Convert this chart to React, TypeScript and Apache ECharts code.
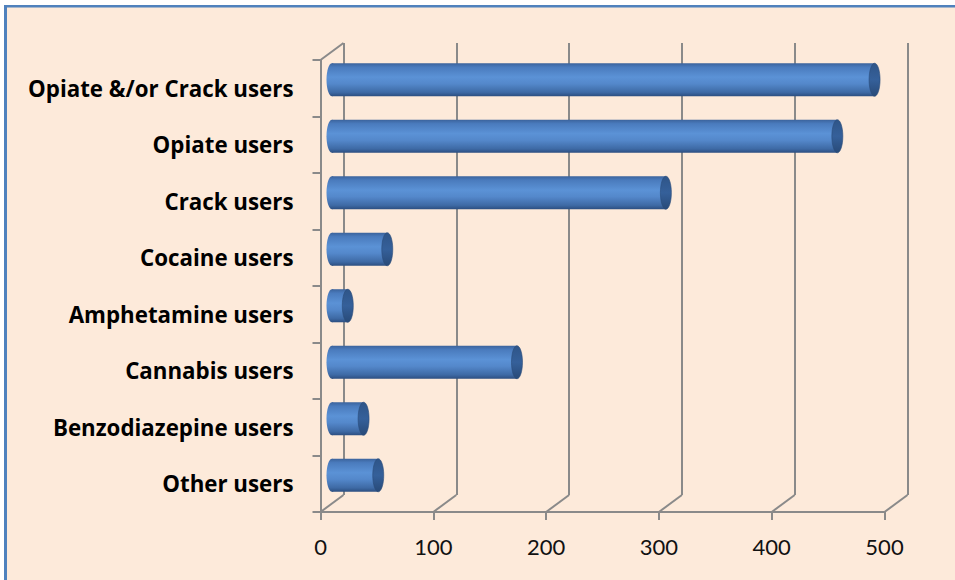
import React, { useEffect, useRef } from "react";
import * as echarts from "echarts";

const categories = [
  "Opiate &/or Crack users",
  "Opiate users",
  "Crack users",
  "Cocaine users",
  "Amphetamine users",
  "Cannabis users",
  "Benzodiazepine users",
  "Other users",
];
const values = [481, 448, 296, 49, 14, 164, 28, 41];
const xTicks = [0, 100, 200, 300, 400, 500];

const AXIS_MIN = 0;
const AXIS_MAX = 500;
const AXIS_STEP = 100;

const DEPTH_X = 23;
const DEPTH_Y = -17;
const GRID_COLOR = "#8a8a8a";
const BG = "#FDEADA";
const FRAME_BLUE = "#4F81BD";

export default function App() {
  const ref = useRef<HTMLDivElement>(null);

  useEffect(() => {
    document.body.style.margin = "0";
    const chart = echarts.init(ref.current!, null, { renderer: "svg" });

    const frontGrid = { left: 320.5, right: 70.5, top: 60, bottom: 68 };
    const backGrid = {
      left: frontGrid.left + DEPTH_X,
      right: frontGrid.right - DEPTH_X,
      top: frontGrid.top + DEPTH_Y,
      bottom: frontGrid.bottom - DEPTH_Y,
    };
    const midGrid = {
      left: frontGrid.left + DEPTH_X / 2,
      right: frontGrid.right - DEPTH_X / 2,
      top: frontGrid.top + DEPTH_Y / 2,
      bottom: frontGrid.bottom - DEPTH_Y / 2,
    };

    const lineStyle = { color: GRID_COLOR, width: 2 };

    const option: any = {
      animation: false,
      backgroundColor: BG,
      grid: [frontGrid, backGrid, midGrid],
      xAxis: [
        {
          gridIndex: 0,
          type: "value",
          min: AXIS_MIN,
          max: AXIS_MAX,
          interval: AXIS_STEP,
          axisLine: { show: true, lineStyle },
          axisTick: { show: true, length: 8, lineStyle },
          splitLine: { show: false },
          axisLabel: {
            margin: 23,
            fontFamily: "Lato",
            fontSize: 22,
            color: "#111",
          },
        },
        {
          gridIndex: 1,
          type: "value",
          min: AXIS_MIN,
          max: AXIS_MAX,
          interval: AXIS_STEP,
          axisLine: { show: false },
          axisTick: { show: false },
          axisLabel: { show: false },
          splitLine: { show: true, lineStyle },
        },
        {
          gridIndex: 2,
          type: "value",
          min: AXIS_MIN,
          max: AXIS_MAX,
          interval: AXIS_STEP,
          show: false,
        },
      ],
      yAxis: [
        {
          gridIndex: 0,
          type: "category",
          inverse: true,
          data: categories,
          axisLine: { show: true, lineStyle },
          axisTick: { show: true, length: 8, lineStyle },
          splitLine: { show: false },
          axisLabel: {
            margin: 27,
            fontFamily: "Open Sans",
            fontWeight: "bold",
            fontSize: 22.3,
            color: "#000",
          },
        },
        {
          gridIndex: 1,
          type: "value",
          show: false,
        },
        {
          gridIndex: 2,
          type: "category",
          inverse: true,
          data: categories,
          show: false,
        },
      ],
      graphic: [
        { type: "rect", shape: { x: 0, y: 0, width: 955, height: 5 }, style: { fill: "#fff" }, silent: true },
        { type: "rect", shape: { x: 0, y: 0, width: 4, height: 580 }, style: { fill: "#fff" }, silent: true },
        { type: "rect", shape: { x: 4, y: 5, width: 951, height: 2.5 }, style: { fill: FRAME_BLUE }, silent: true },
        { type: "rect", shape: { x: 4, y: 5, width: 3, height: 575 }, style: { fill: FRAME_BLUE }, silent: true },
      ],
      series: [
        {
          type: "custom",
          xAxisIndex: 0,
          yAxisIndex: 0,
          silent: true,
          clip: false,
          data: xTicks.map((t) => [t, categories.length - 1]),
          renderItem: (params: any, api: any) => {
            const v = api.value(0);
            const band = api.size([0, 1])[1];
            const p = api.coord([v, categories.length - 1]);
            const bottom = p[1] + band / 2;
            const children: any[] = [
              {
                type: "line",
                shape: { x1: p[0], y1: bottom, x2: p[0] + DEPTH_X, y2: bottom + DEPTH_Y },
                style: { stroke: GRID_COLOR, lineWidth: 2 },
              },
            ];
            if (params.dataIndex === 0) {
              const top = api.coord([v, 0])[1] - band / 2;
              children.push({
                type: "line",
                shape: { x1: p[0], y1: top, x2: p[0] + DEPTH_X, y2: top + DEPTH_Y },
                style: { stroke: GRID_COLOR, lineWidth: 2 },
              });
            }
            return { type: "group", children };
          },
        },
        {
          type: "custom",
          xAxisIndex: 2,
          yAxisIndex: 2,
          clip: false,
          data: values.map((v, i) => [v, i]),
          renderItem: (params: any, api: any) => {
            const v = api.value(0);
            const idx = api.value(1);
            const start = api.coord([0, idx]);
            const end = api.coord([v, idx]);
            const h = api.size([0, 1])[1] * 0.585;
            const cy = start[1];
            const rx = 5.5;
            const bodyFill = {
              type: "linear",
              x: 0,
              y: 0,
              x2: 0,
              y2: 1,
              colorStops: [
                { offset: 0, color: "#3b639c" },
                { offset: 0.12, color: "#4a7bbd" },
                { offset: 0.42, color: "#5b92d6" },
                { offset: 0.62, color: "#5488cb" },
                { offset: 0.88, color: "#3e6aa5" },
                { offset: 1, color: "#2c4e80" },
              ],
            };
            const capFill = {
              type: "linear",
              x: 0,
              y: 0,
              x2: 0,
              y2: 1,
              colorStops: [
                { offset: 0, color: "#2f5588" },
                { offset: 0.5, color: "#35609a" },
                { offset: 1, color: "#284a78" },
              ],
            };
            return {
              type: "group",
              children: [
                {
                  type: "ellipse",
                  shape: { cx: start[0], cy, rx, ry: h / 2 },
                  style: { fill: bodyFill },
                },
                {
                  type: "rect",
                  shape: { x: start[0], y: cy - h / 2, width: Math.max(end[0] - start[0], 0), height: h },
                  style: { fill: bodyFill },
                },
                {
                  type: "ellipse",
                  shape: { cx: end[0], cy, rx, ry: h / 2 },
                  style: { fill: capFill, stroke: "#2a4b78", lineWidth: 0.6 },
                },
              ],
            };
          },
        },
      ],
    };

    chart.setOption(option);
    return () => chart.dispose();
  }, []);

  return <div ref={ref} style={{ width: 955, height: 580 }} />;
}
